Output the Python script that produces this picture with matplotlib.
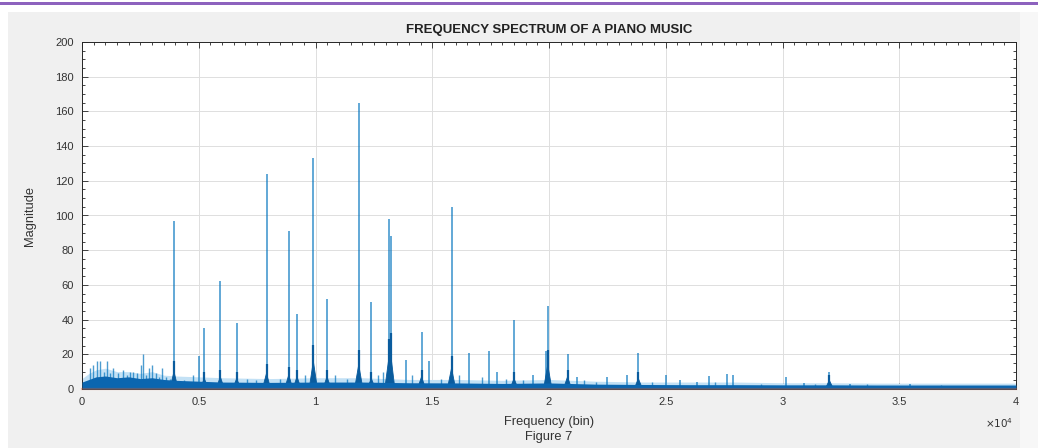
import matplotlib
matplotlib.use("Agg")
import matplotlib.pyplot as plt
from matplotlib.patches import Rectangle
from matplotlib.ticker import MultipleLocator

# ---------------- data ----------------
# main spectral peaks: frequency bin and magnitude
peak_bins = [3940, 5032, 5238, 5923, 6626, 7902, 8853, 9209, 9907, 10493,
             11851, 12391, 13144, 13221, 13877, 14541, 14875, 15826, 16589,
             17411, 17788, 18503, 19330, 19852, 19946, 20794, 21188, 22499,
             23356, 23827, 24991, 25621, 26328, 26868, 27613, 27895, 30140,
             30924, 32006, 32894, 35463]
peak_mags = [97, 19, 35, 62, 38, 124, 91, 43, 133, 52,
             165, 50, 98, 88, 17, 33, 16, 105, 21,
             22, 10, 40, 8, 22, 48, 20, 7, 7,
             8, 21, 8, 5, 4, 7.5, 8.5, 8, 7,
             3.5, 10, 3, 3]

# dark base ("skirt") of the strongest peaks
skirt_bins = [3940, 5238, 5923, 6626, 7902, 8853, 9209, 9907, 10493, 11851,
              12391, 13144, 13221, 14541, 15826, 18503, 19946, 20794, 23827,
              32006]
skirt_mags = [10, 6, 7, 6, 9, 8, 7, 16, 7, 14,
              6, 18, 20, 7, 12, 6, 14, 7, 6, 5]

# small spikes in the low-frequency region and between peaks
minor_bins = [343, 471, 642, 771, 942, 1071, 1199, 1328, 1542, 1756, 1927,
              2056, 2184, 2356, 2527, 2613, 2741, 2870, 2998, 3169, 3298,
              3426, 3598, 3769, 4370, 4750, 7070, 7460, 8480, 9560, 10840,
              11330, 12680, 12900, 14130, 15380, 16130, 17130, 18150, 18900,
              21500, 22000, 24400, 27100, 29100, 31400, 33600, 36800]
minor_mags = [12, 14, 16, 16, 10, 16, 9, 12, 9, 11, 8,
              10, 10, 9, 14, 20, 8, 12, 14, 9, 7,
              12, 7, 6, 5, 8, 6, 5, 6, 8, 8,
              6, 8, 10, 8, 6, 8, 7, 6, 5,
              5, 4, 4, 4, 3, 3, 3, 2.5]

# noise floor (upper edge of the dense band) and its light halo
band_bins = [0, 300, 600, 1000, 1500, 2000, 2500, 3000, 3500, 4000, 5000,
             6000, 8000, 10000, 12000, 14000, 16000, 18000, 20000, 22000,
             24000, 26000, 28000, 30000, 32000, 34000, 36000, 38000, 40000]
band_top = [4, 5.5, 7, 7.5, 6.5, 7, 6, 6.5, 5.5, 5, 4.5,
            4, 3.8, 4, 4, 3.6, 3.5, 3.2, 3.5, 2.8,
            2.6, 2.5, 2.5, 2.4, 2.4, 2.3, 2.3, 2.3, 2.3]
halo_top = [6, 9, 11, 12, 10, 10, 9, 10, 8, 7.5, 7,
            6.5, 6, 6.5, 6.5, 5.5, 5.5, 5, 5.5, 4.5,
            4, 4, 4, 3.6, 3.6, 3.4, 3.4, 3.4, 3.4]

x_ticks = [0, 5000, 10000, 15000, 20000, 25000, 30000, 35000, 40000]
x_tick_labels = ["0", "0.5", "1", "1.5", "2", "2.5", "3", "3.5", "4"]
y_ticks = [0, 20, 40, 60, 80, 100, 120, 140, 160, 180, 200]

title_text = "FREQUENCY SPECTRUM OF A PIANO MUSIC"
xlabel_text = "Frequency (bin)"
ylabel_text = "Magnitude"
caption_text = "Figure 7"

# ---------------- figure ----------------
plt.rcParams["font.family"] = ["Liberation Sans", "DejaVu Sans"]
W, H = 1038, 448
fig = plt.figure(figsize=(W / 100, H / 100), dpi=100)
fig.patch.set_facecolor("white")

# grey figure panel and the purple line of the screenshot
fig.patches.append(Rectangle((8 / W, 0), (1020 - 8) / W, (H - 12) / H,
                             transform=fig.transFigure, facecolor="#f0f0f0",
                             edgecolor="none", zorder=-10))
fig.patches.append(Rectangle((1020 / W, 0), (W - 1020) / W, (H - 12) / H,
                             transform=fig.transFigure, facecolor="#f7f7f7",
                             edgecolor="none", zorder=-10))
fig.patches.append(Rectangle((0, 1 - 4.6 / H), 1, 2.2 / H,
                             transform=fig.transFigure, facecolor="#8d62be",
                             edgecolor="none", zorder=-5))

ax = fig.add_axes([82 / W, 1 - 389 / H, 934 / W, 347 / H])
ax.set_facecolor("white")

blue = "#0072BD"
dark = "#0a5c9e"
SKIRT_HALF_WIDTH = 180  # bins, visual width of a peak's base

ax.fill_between(band_bins, 0, halo_top, color="#c3e1f5", lw=0, zorder=2)
ax.vlines(minor_bins, 0, minor_mags, color=blue, lw=1.0, alpha=0.7, zorder=3)
ax.vlines(peak_bins, 0, peak_mags, color=blue, lw=1.2, alpha=0.72, zorder=3)
for b, h in zip(skirt_bins, skirt_mags):
    ax.fill([b - SKIRT_HALF_WIDTH, b, b + SKIRT_HALF_WIDTH], [0, h, 0],
            color=dark, lw=0.6, zorder=4)
ax.vlines(skirt_bins, 0, [m * 1.6 for m in skirt_mags], color=dark, lw=1.6,
          zorder=4)
ax.fill_between(band_bins, 0, band_top, color="#0b66b0", lw=0, zorder=5)
ax.axhline(0, color="#D95319", lw=1.6, alpha=0.35, zorder=6, clip_on=False)

ax.set_xlim(0, 40000)
ax.set_ylim(0, 200)
ax.set_xticks(x_ticks)
ax.set_xticklabels(x_tick_labels)
ax.set_yticks(y_ticks)
ax.xaxis.set_minor_locator(MultipleLocator(500))
ax.yaxis.set_minor_locator(MultipleLocator(5))
ax.tick_params(which="both", direction="in", top=True, right=True,
               color="#262626", width=0.6, labelsize=8, labelcolor="#333333")
ax.tick_params(which="major", length=4.5, pad=6)
ax.tick_params(which="minor", length=2.2)
ax.grid(True, which="major", color="#dedede", lw=0.7)
ax.set_axisbelow(True)
for s in ax.spines.values():
    s.set_color("#262626")
    s.set_linewidth(0.7)

fig.text(549 / W, 1 - 30 / H, title_text, ha="center", va="center",
         fontsize=9.5, fontweight="bold", color="#222222")
fig.text(30 / W, 1 - 216 / H, ylabel_text, ha="center", va="center",
         rotation=90, fontsize=9.3, color="#333333")
fig.text(549 / W, 1 - 422 / H, xlabel_text, ha="center", va="center",
         fontsize=9.3, color="#333333")
fig.text(549 / W, 1 - 437 / H, caption_text, ha="center", va="center",
         fontsize=9.3, color="#333333")
fig.text(1013 / W, 1 - 423 / H, r"$\times10^{4}$", ha="right", va="center",
         fontsize=7.5, color="#333333")

fig.savefig("out.png", dpi=100, facecolor=fig.get_facecolor())
